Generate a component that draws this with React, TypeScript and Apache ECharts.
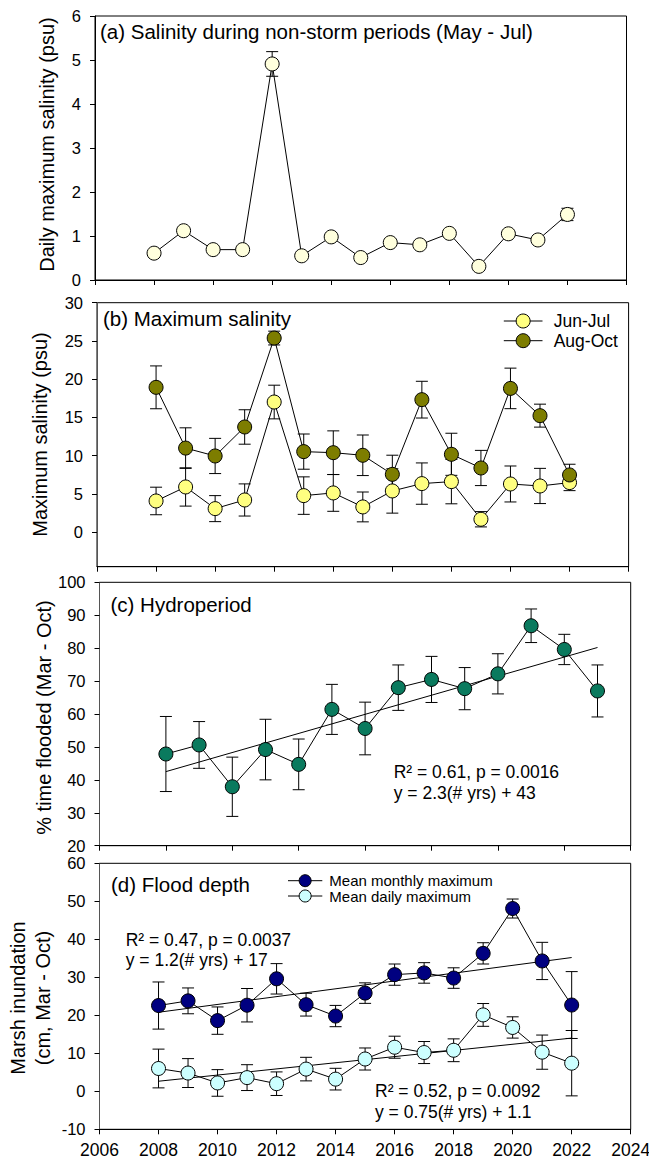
import React, { useEffect, useRef } from "react";
import * as echarts from "echarts";

// ---------- data ----------
const years = [2008, 2009, 2010, 2011, 2012, 2013, 2014, 2015, 2016, 2017, 2018, 2019, 2020, 2021, 2022];
const xTickLabels = ["2006", "2008", "2010", "2012", "2014", "2016", "2018", "2020", "2022", "2024"];

// (a) daily maximum salinity, non-storm periods (May - Jul)
const aSalinity = [0.61, 1.12, 0.69, 0.69, 4.91, 0.55, 0.98, 0.51, 0.85, 0.8, 1.06, 0.31, 1.05, 0.91, 1.49];
const aSalinityErr = [0.05, 0.06, 0.05, 0.05, 0.28, 0.05, 0.06, 0.04, 0.05, 0.05, 0.06, 0.04, 0.06, 0.05, 0.14];

// (b) maximum salinity
const bJunJul = [4.09, 5.92, 3.09, 4.22, 17.02, 4.79, 5.14, 3.31, 5.4, 6.36, 6.62, 1.7, 6.31, 6.05, 6.49];
const bJunJulErr = [1.8, 2.5, 1.7, 2.1, 2.2, 2.45, 2.4, 1.95, 2.9, 2.7, 2.9, 1.0, 2.35, 2.3, 1.05];
const bAugOct = [18.94, 11.0, 9.97, 13.76, 25.38, 10.54, 10.4, 10.06, 7.57, 17.33, 10.19, 8.4, 18.8, 15.24, 7.49];
const bAugOctErr = [2.8, 2.65, 2.3, 2.25, 0.9, 2.3, 2.85, 2.65, 2.5, 2.4, 2.75, 2.3, 2.65, 1.5, 1.4];

// (c) hydroperiod
const cYears = [2008, 2009, 2010, 2011, 2012, 2013, 2014, 2015, 2016, 2017, 2018, 2019, 2020, 2021];
const cFlooded = [47.85, 50.6, 37.9, 49.2, 44.7, 61.4, 55.6, 68.0, 70.5, 67.7, 72.2, 86.8, 79.6, 67.0];
const cFloodedErr = [11.4, 7.1, 9.0, 9.2, 7.7, 7.6, 8.0, 6.9, 7.0, 6.4, 6.1, 5.1, 4.6, 7.9];
const cFit = [[2008, 42.5], [2021, 80.2]];

// (d) flood depth
const dMonthly = [22.57, 23.8, 18.6, 22.65, 29.6, 22.8, 19.8, 25.84, 30.7, 31.15, 29.8, 36.3, 48.1, 34.3, 22.7];
const dMonthlyErr = [6.2, 3.4, 3.6, 4.4, 4.0, 3.0, 2.8, 2.7, 2.8, 2.7, 2.7, 2.8, 2.5, 4.9, 8.8];
const dDaily = [6.0, 4.8, 2.2, 3.6, 2.0, 5.84, 3.2, 8.5, 11.6, 10.2, 10.8, 20.1, 16.8, 10.3, 7.4];
const dDailyErr = [5.1, 3.8, 3.5, 3.4, 3.1, 3.1, 2.85, 2.9, 2.9, 2.9, 3.0, 3.0, 2.8, 4.5, 8.6];
const dMonthlyFit = [[2008, 20.8], [2022, 35.2]];
const dDailyFit = [[2008, 2.65], [2022, 14.0]];

const bTicks = [0, 5, 10, 15, 20, 25, 30];

// ---------- helpers ----------
const FONT = "'Liberation Sans', Arial, Helvetica, sans-serif";

function pairs(xs: number[], ys: number[]) {
  return xs.map((x, i) => [x, ys[i]]);
}
function errRows(xs: number[], ys: number[], es: number[]) {
  return xs.map((x, i) => [x, ys[i] - es[i], ys[i] + es[i]]);
}

function errorSeries(idx: number, data: number[][]) {
  return {
    type: "custom",
    xAxisIndex: idx,
    yAxisIndex: idx,
    z: 1,
    silent: true,
    encode: { x: 0, y: [1, 2] },
    data,
    renderItem: (_params: any, api: any) => {
      const x = api.value(0);
      const lo = api.coord([x, api.value(1)]);
      const hi = api.coord([x, api.value(2)]);
      const w = 6;
      const st = { stroke: "#000", lineWidth: 1 };
      return {
        type: "group",
        children: [
          { type: "line", shape: { x1: lo[0], y1: lo[1], x2: hi[0], y2: hi[1] }, style: st },
          { type: "line", shape: { x1: hi[0] - w, y1: hi[1], x2: hi[0] + w, y2: hi[1] }, style: st },
          { type: "line", shape: { x1: lo[0] - w, y1: lo[1], x2: lo[0] + w, y2: lo[1] }, style: st },
        ],
      };
    },
  };
}

function lineSeries(idx: number, name: string, data: number[][], color: string, size = 14) {
  return {
    type: "line",
    name,
    xAxisIndex: idx,
    yAxisIndex: idx,
    z: 3,
    data,
    symbol: "circle",
    symbolSize: size,
    showSymbol: true,
    lineStyle: { color: "#000", width: 1 },
    itemStyle: { color, borderColor: "#000", borderWidth: 1 },
    emphasis: { disabled: true },
  };
}

function fitSeries(idx: number, data: number[][]) {
  return {
    type: "line",
    xAxisIndex: idx,
    yAxisIndex: idx,
    z: 2,
    data,
    symbol: "none",
    lineStyle: { color: "#000", width: 1 },
    emphasis: { disabled: true },
  };
}

function xAxis(idx: number, max: number, showLabels: boolean) {
  return {
    type: "value",
    gridIndex: idx,
    min: 2006,
    max,
    interval: 2,
    axisLine: { show: true, onZero: false, lineStyle: { color: "#000", width: 1 } },
    axisTick: { show: true, inside: false, length: 5, lineStyle: { color: "#000" } },
    axisLabel: {
      show: showLabels,
      fontSize: 17.5,
      fontFamily: FONT,
      color: "#000",
      margin: 12,
      formatter: (v: number) => {
        const s = String(v);
        return xTickLabels.indexOf(s) >= 0 ? s : "";
      },
    },
    splitLine: { show: false },
  };
}

function yAxis(idx: number, min: number, max: number, interval: number, lineColor: string, custom?: number[]) {
  const ax: any = {
    type: "value",
    gridIndex: idx,
    min,
    max,
    axisLine: { show: true, onZero: false, lineStyle: { color: lineColor, width: 1 } },
    axisTick: { show: true, inside: false, length: 5, lineStyle: { color: "#000" } },
    axisLabel: { fontSize: 16.5, fontFamily: FONT, color: "#000", margin: 14, lineHeight: 16.5 },
    splitLine: { show: false },
  };
  if (custom) {
    ax.axisTick.customValues = custom;
    ax.axisLabel.customValues = custom;
  } else {
    ax.interval = interval;
  }
  return ax;
}

function txt(x: number, y: number, text: string, fontSize: number, extra: any = {}) {
  return {
    type: "text",
    x,
    y,
    silent: true,
    z: 10,
    ...extra,
    style: {
      text,
      fontSize,
      fontFamily: FONT,
      fill: "#000",
      align: "left",
      verticalAlign: "middle",
      ...(extra.style || {}),
    },
  };
}

function vtitle(x: number, y: number, text: string) {
  return {
    type: "text",
    x,
    y,
    rotation: Math.PI / 2,
    silent: true,
    z: 10,
    style: {
      text,
      fontSize: 20,
      fontFamily: FONT,
      fill: "#000",
      align: "center",
      verticalAlign: "middle",
      lineHeight: 25,
    },
  };
}

function legendItem(x1: number, x2: number, y: number, r: number, color: string, label: string, fs: number, tx: number) {
  return [
    { type: "line", z: 10, silent: true, shape: { x1, y1: y, x2, y2: y }, style: { stroke: "#000", lineWidth: 1 } },
    {
      type: "circle",
      z: 11,
      silent: true,
      shape: { cx: (x1 + x2) / 2, cy: y, r },
      style: { fill: color, stroke: "#000", lineWidth: 1 },
    },
    txt(tx, y, label, fs),
  ];
}

export default function App() {
  const ref = useRef<HTMLDivElement>(null);

  useEffect(() => {
    if (!ref.current) return;
    const chart = echarts.init(ref.current, undefined, { renderer: "svg" });

    const gridBase = { show: true, borderColor: "#000", borderWidth: 1, backgroundColor: "transparent", containLabel: false, outerBoundsMode: "none" };

    const option: any = {
      animation: false,
      backgroundColor: "#fff",
      grid: [
        { ...gridBase, left: 95, top: 16, width: 531.5, height: 264 },
        { ...gridBase, left: 97, top: 302.7, width: 531.6, height: 264 },
        { ...gridBase, left: 99.5, top: 582.3, width: 531.2, height: 263.4 },
        { ...gridBase, left: 99.5, top: 863.3, width: 531.2, height: 266 },
      ],
      xAxis: [xAxis(0, 2024, false), xAxis(1, 2024, false), xAxis(2, 2022, false), xAxis(3, 2024, true)],
      yAxis: [
        yAxis(0, 0, 6, 1, "#000"),
        yAxis(1, -4.5, 30, 5, "#555", bTicks),
        yAxis(2, 20, 100, 10, "#555"),
        yAxis(3, -10, 60, 10, "#555"),
      ],
      series: [
        // (a)
        errorSeries(0, errRows(years, aSalinity, aSalinityErr)),
        lineSeries(0, "May-Jul", pairs(years, aSalinity), "#FFFFDD"),
        // (b)
        errorSeries(1, errRows(years, bAugOct, bAugOctErr)),
        errorSeries(1, errRows(years, bJunJul, bJunJulErr)),
        lineSeries(1, "Jun-Jul", pairs(years, bJunJul), "#FFFF80"),
        lineSeries(1, "Aug-Oct", pairs(years, bAugOct), "#7D7D00"),
        // (c)
        errorSeries(2, errRows(cYears, cFlooded, cFloodedErr)),
        fitSeries(2, cFit),
        lineSeries(2, "Hydroperiod", pairs(cYears, cFlooded), "#0A7A5E"),
        // (d)
        errorSeries(3, errRows(years, dMonthly, dMonthlyErr)),
        errorSeries(3, errRows(years, dDaily, dDailyErr)),
        fitSeries(3, dMonthlyFit),
        fitSeries(3, dDailyFit),
        lineSeries(3, "Mean monthly maximum", pairs(years, dMonthly), "#000080"),
        lineSeries(3, "Mean daily maximum", pairs(years, dDaily), "#CCFFFF"),
      ],
      graphic: [
        // panel titles
        txt(100, 31.7, "(a) Salinity during non-storm periods (May - Jul)", 20.5),
        txt(103, 318.3, "(b) Maximum salinity", 20.5),
        txt(110.5, 604.3, "(c) Hydroperiod", 20.5),
        txt(111, 884, "(d) Flood depth", 20.5),
        // y-axis titles
        vtitle(47, 144.5, "Daily maximum salinity (psu)"),
        vtitle(39.5, 434.5, "Maximum salinity (psu)"),
        vtitle(43.5, 717.5, "% time flooded (Mar - Oct)"),
        vtitle(30, 998, "Marsh inundation\n(cm, Mar - Oct)"),
        // regression annotations
        txt(393.7, 772.3, "R² = 0.61, p = 0.0016", 17.5),
        txt(393.7, 792.7, "y = 2.3(# yrs) + 43", 17.5),
        txt(125.7, 940, "R² = 0.47, p = 0.0037", 17.5),
        txt(125.7, 960, "y = 1.2(# yrs) + 17", 17.5),
        txt(375, 1090.7, "R² = 0.52, p = 0.0092", 17.5),
        txt(375, 1111.7, "y = 0.75(# yrs) + 1.1", 17.5),
        // legends
        ...legendItem(503.8, 542.5, 321, 7, "#FFFF80", "Jun-Jul", 17.5, 553.7),
        ...legendItem(503.8, 542.5, 340.7, 7, "#7D7D00", "Aug-Oct", 17.5, 553.7),
        ...legendItem(288, 322.3, 880.7, 6, "#000080", "Mean monthly maximum", 15, 329.3),
        ...legendItem(288, 322.3, 896, 6, "#CCFFFF", "Mean daily maximum", 15, 329.3),
      ],
    };

    chart.setOption(option);
    return () => chart.dispose();
  }, []);

  return (
    <div
      ref={ref}
      style={{ position: "absolute", left: 0, top: 0, width: 649, height: 1161, background: "#fff" }}
    />
  );
}
